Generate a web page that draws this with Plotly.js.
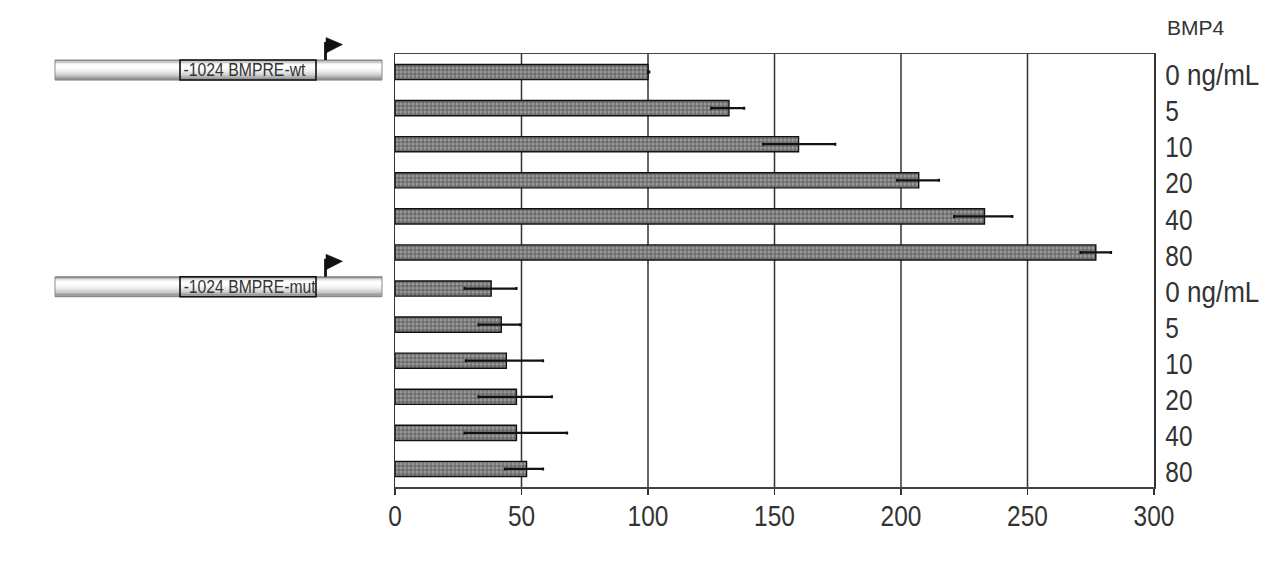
<!DOCTYPE html>
<html><head><meta charset="utf-8">
<script src="https://cdn.plot.ly/plotly-3.0.1.min.js"></script>
<style>html,body{margin:0;padding:0;background:#fff}#c{width:1280px;height:578px}</style>
</head><body><div id="c"></div>
<script>
const doseLabels = ['0 ng/mL','5','10','20','40','80','0 ng/mL','5','10','20','40','80'];
const activity = [100,132,159.5,207,233,277,38,42,44,48,48,52];
const errPlus  = [0.5,6,14.5,8,11,6,10,7.5,14.5,14,20,6.5];
const errMinus = [0,7,14,8.5,12,6,10.5,9,16,15,20.5,8.5];
const positions = doseLabels.map((_, i) => i);
const constructs = ['-1024 BMPRE-wt','-1024 BMPRE-mut'];
const xTicks = [0,50,100,150,200,250,300];

const W = 1280, H = 578, L = 395, R = 1154, T = 53.5, B = 487;
const px = x => (x - L) / (R - L);
const py = y => (B - y) / (B - T);

const shapes = [], annotations = [];
const grads = ['#8c8c8c','#c4c4c4','#ececec','#fafafa','#ffffff','#ffffff','#fafafa','#f4f4f4','#ececec','#e2e2e2','#d6d6d6','#c8c8c8','#b4b4b4','#9a9a9a','#8c8c8c'];
function rect(x0,y0,x1,y1,fill,line,w){
  shapes.push({type:'rect',xref:'paper',yref:'paper',x0:px(x0),x1:px(x1),y0:py(y0),y1:py(y1),
    fillcolor:fill,line:{color:line||fill,width:w===undefined?0:w},layer:'above'});
}
function construct(top,label,cx){
  const h = 20, step = h / grads.length;
  grads.forEach((c,i)=>rect(55,top+i*step,382,top+(i+1)*step+0.3,c));
  rect(55,top,382,top+h,'rgba(0,0,0,0)','#8a8a8a',1);
  rect(180,top,316,top+h,'rgba(0,0,0,0)','#111',1.6);
  annotations.push({xref:'paper',yref:'paper',x:px(cx),y:py(top+10),xanchor:'center',yanchor:'middle',
    text:label,showarrow:false,font:{family:'Liberation Sans',size:18.5,color:'#333'}});
  shapes.push({type:'line',xref:'paper',yref:'paper',x0:px(325.5),x1:px(325.5),y0:py(top),y1:py(top-18),
    line:{color:'#111',width:2.8},layer:'above'});
  const a=px(326),b=px(342.5),t1=py(top-22.5),t2=py(top-15.5),t3=py(top-7);
  shapes.push({type:'path',xref:'paper',yref:'paper',path:`M${a},${t1} L${b},${t2} L${a},${t3} Z`,
    fillcolor:'#111',line:{color:'#111',width:0.5},layer:'above'});
}
construct(59.5,constructs[0],244);
construct(276.5,constructs[1],249);
annotations.push({xref:'paper',yref:'paper',x:px(1165),y:py(27),xanchor:'left',yanchor:'middle',text:'BMP4',
  showarrow:false,font:{family:'Liberation Sans',size:21,color:'#333'}});

const gd = document.getElementById('c');
Plotly.newPlot(gd,[{
  type:'bar',orientation:'h',y:positions,x:activity,
  marker:{color:'#888',line:{color:'#111',width:1.4},
    pattern:{shape:'.',bgcolor:'#6c6c6c',fgcolor:'#c8c8c8',size:4,solidity:0.45,fillmode:'overlay'}},
  error_x:{type:'data',symmetric:false,array:errPlus,arrayminus:errMinus,color:'#111',thickness:2.2,width:1.5},
  hoverinfo:'x+y'
}],{
  width:W,height:H,showlegend:false,bargap:0.58,
  paper_bgcolor:'#fff',plot_bgcolor:'#fff',
  margin:{l:L,r:W-R,t:T,b:H-B,pad:0},
  font:{family:'Liberation Sans',color:'#333'},
  xaxis:{range:[0,300],tickvals:xTicks,ticks:'outside',ticklen:6,tickwidth:1.5,tickcolor:'#333',
    showgrid:true,gridcolor:'#333',gridwidth:1.5,zeroline:false,showline:true,linecolor:'#444',linewidth:1.5,mirror:true,
    ticklabelstandoff:-3,tickfont:{size:29,color:'#333'}},
  yaxis:{range:[11.5,-0.5],side:'right',tickmode:'array',tickvals:positions,ticktext:doseLabels,ticks:'',
    showgrid:false,zeroline:false,showline:true,linecolor:'#333',linewidth:1.5,mirror:true,
    ticklabelstandoff:4,ticklabelshift:-3,tickfont:{size:29,color:'#333'}},
  shapes,annotations
},{displayModeBar:false,staticPlot:true}).then(()=>{
  // The reference face is narrow: condense real text to its measured widths.
  const fit = (el,w)=>{el.setAttribute('textLength',w);el.setAttribute('lengthAdjust','spacingAndGlyphs');};
  gd.querySelectorAll('.xtick text,.ytick text').forEach(t=>{
    const s=t.textContent; fit(t, s.includes('ng')?94:s.length*13.6);
  });
  gd.querySelectorAll('.annotation-text').forEach(t=>{
    const s=t.textContent;
    if(s.endsWith('wt')) fit(t,122);
    else if(s.endsWith('mut')) fit(t,132);
  });
  gd.querySelectorAll('.gridlayer path').forEach(p=>{p.style.shapeRendering='geometricPrecision';});
});
</script></body></html>
